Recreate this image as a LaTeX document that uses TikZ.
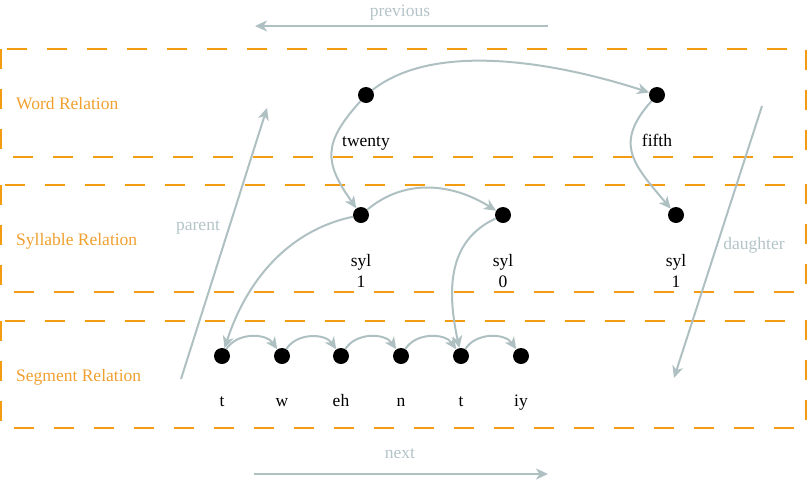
\documentclass[tikz,border=0pt]{standalone}
\usepackage{fontspec}
\setmainfont{Liberation Serif}
\usetikzlibrary{arrows.meta}
\definecolor{relorange}{HTML}{F39C12}
\definecolor{reltext}{HTML}{F0A030}
\definecolor{linkgray}{HTML}{AFC0C3}
\definecolor{labgray}{HTML}{B4C4C7}
\begin{document}
\begin{tikzpicture}[x=1pt,y=-1pt,
  every node/.style={font=\fontsize{17.5}{20}\selectfont},
  dot/.style={circle,fill=black,inner sep=0pt,minimum size=16pt},
  relbox/.style={draw=relorange,line width=2pt,dash pattern=on 20pt off 20pt},
  reltitle/.style={text=reltext,anchor=base west,inner sep=0pt},
  lab/.style={anchor=base,inner sep=0pt,text=black},
  glab/.style={anchor=base,inner sep=0pt,text=labgray},
  link/.style={draw=linkgray,line width=2pt,-{Stealth[length=12pt,width=11pt,inset=3.5pt]}}
]
\useasboundingbox (0,0) rectangle (807,483);

% relation boxes
\draw[relbox] (1,49) rectangle (806,157);
\draw[relbox] (1,185) rectangle (806,292);
\draw[relbox] (1,321) rectangle (806,428);
\node[reltitle] (wr) at (16,109) {Word Relation};
\node[reltitle] (sr) at (16,245) {Syllable Relation};
\node[reltitle] (gr) at (16,381) {Segment Relation};

% nodes
\node[dot] (twenty) at (366,95) {};
\node[dot] (fifth) at (657,95) {};
\node[dot] (s1) at (361,215) {};
\node[dot] (s0) at (503,215) {};
\node[dot] (s2) at (676,215) {};
\node[dot] (p1) at (222,356) {};
\node[dot] (p2) at (282,356) {};
\node[dot] (p3) at (341,356) {};
\node[dot] (p4) at (401,356) {};
\node[dot] (p5) at (461,356) {};
\node[dot] (p6) at (521,356) {};

% node labels
\node[lab] (ltwenty) at (366,146.5) {twenty};
\node[lab] (lfifth) at (657,146.5) {fifth};
\node[lab] (ls1a) at (361,266.5) {syl};
\node[lab] (ls1b) at (361,287) {1};
\node[lab] (ls0a) at (503,266.5) {syl};
\node[lab] (ls0b) at (503,287) {0};
\node[lab] (ls2a) at (676,266.5) {syl};
\node[lab] (ls2b) at (676,287) {1};
\node[lab] (lp1) at (222,406.5) {t};
\node[lab] (lp2) at (282,406.5) {w};
\node[lab] (lp3) at (341,406.5) {eh};
\node[lab] (lp4) at (401,406.5) {n};
\node[lab] (lp5) at (461,406.5) {t};
\node[lab] (lp6) at (521,406.5) {iy};

% links
\draw[link] (twenty) to[out=38,in=162,looseness=0.78] (fifth);
\draw[link] (twenty) to[out=228,in=125,looseness=1.35] (s1);
\draw[link] (fifth) to[out=228,in=130,looseness=1.35] (s2);
\draw[link] (s1) to[out=40,in=148] (s0);
\draw[link] (s1) to[out=192,in=72,looseness=0.95] (p1);
\draw[link] (s0) to[out=205,in=102,looseness=1.05] (p5);
\draw[link] (p1) to[out=58,in=125] (p2);
\draw[link] (p2) to[out=58,in=125] (p3);
\draw[link] (p3) to[out=58,in=125] (p4);
\draw[link] (p4) to[out=58,in=125] (p5);
\draw[link] (p5) to[out=58,in=125] (p6);

% direction arrows
\coordinate (prevA) at (548,26);
\coordinate (prevB) at (255,26);
\coordinate (nextA) at (254,474);
\coordinate (nextB) at (548,474);
\coordinate (parA) at (181,379);
\coordinate (parB) at (267,108);
\coordinate (dauA) at (762,106);
\coordinate (dauB) at (674,378);
\draw[link] (prevA) -- (prevB);
\draw[link] (nextA) -- (nextB);
\draw[link] (parA) -- (parB);
\draw[link] (dauA) -- (dauB);
\node[glab] (lprev) at (400,16.5) {previous};
\node[glab] (lnext) at (400,458) {next};
\node[glab] (lpar) at (198,230.5) {parent};
\node[glab] (ldau) at (754,249) {daughter};
\end{tikzpicture}
\end{document}
